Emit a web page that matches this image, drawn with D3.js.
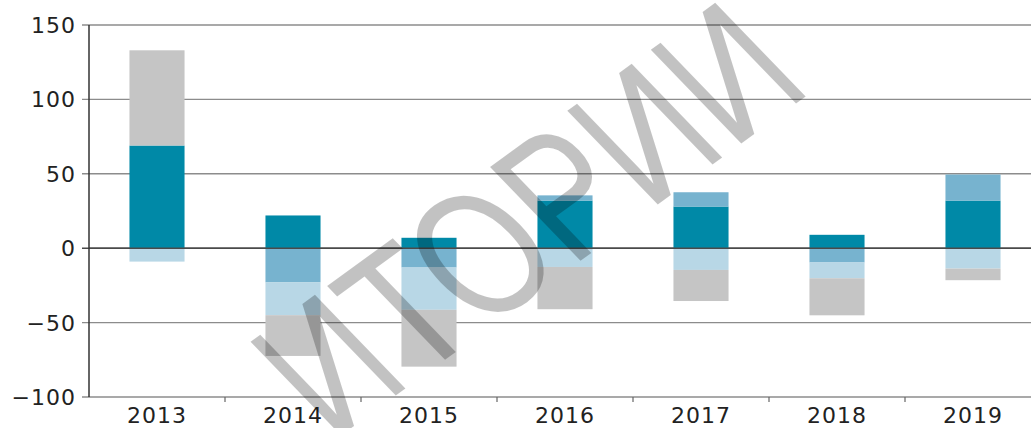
<!DOCTYPE html>
<html>
<head>
<meta charset="utf-8">
<script src="https://cdn.jsdelivr.net/npm/d3@7"></script>
<style>
  body { margin: 0; background: #fff; }
  svg { display: block; }
  .lbl { font-family: "DejaVu Sans", sans-serif; font-size: 22px; fill: #222; letter-spacing: 1px; }
</style>
</head>
<body>
<svg id="chart" width="1031" height="428"></svg>
<script>
// chart values
const years = ['2013', '2014', '2015', '2016', '2017', '2018', '2019'];
const darkTeal  = [69, 22, 7, 32, 28, 9, 32];
const midBlue   = [0, -23, -13, 3.5, 9.6, -9.6, 17.5];
const lightBlue = [-9, -22, -28.4, -12.6, -14.6, -10.6, -13.7];
const greyPart  = [64, -27.4, -38.2, -28.4, -20.9, -24.9, -7.8];
const yTicks = [-100, -50, 0, 50, 100, 150];

const seriesKeys = ['dark', 'mid', 'light', 'grey'];
const colors = { dark: '#0089a7', mid: '#77b3cf', light: '#b8d7e6', grey: '#c5c5c5' };

let table = years.map((y, i) => ({
  year: y, dark: darkTeal[i], mid: midBlue[i], light: lightBlue[i], grey: greyPart[i]
}));

let svg = d3.select('#chart');

let x = d3.scaleBand()
  .domain(years)
  .range([89, 1041])
  .paddingInner(0.595)
  .paddingOuter(0.2975);

let y = d3.scaleLinear()
  .domain([-100, 150])
  .range([397, 25]);

// gridlines
svg.append('g')
  .selectAll('line')
  .data(yTicks)
  .enter()
  .append('line')
  .attr('x1', 82)
  .attr('x2', 1031)
  .attr('y1', d => y(d))
  .attr('y2', d => y(d))
  .attr('stroke', d => d === 0 ? '#4a4a4a' : '#8c8c8c')
  .attr('stroke-width', d => d === 0 ? 1.6 : 1.4);

// stacked bars
let stacked = d3.stack()
  .keys(seriesKeys)
  .offset(d3.stackOffsetDiverging)(table);

svg.append('g')
  .selectAll('g')
  .data(stacked)
  .enter()
  .append('g')
  .attr('fill', d => colors[d.key])
  .selectAll('rect')
  .data(d => d)
  .enter()
  .append('rect')
  .attr('x', d => x(d.data.year))
  .attr('width', x.bandwidth())
  .attr('y', d => y(Math.max(d[0], d[1])))
  .attr('height', d => Math.abs(y(d[0]) - y(d[1])));

// zero line over the bars
svg.append('line')
  .attr('x1', 89).attr('x2', 1031)
  .attr('y1', y(0)).attr('y2', y(0))
  .attr('stroke', '#4a4a4a')
  .attr('stroke-width', 1.6);

// y axis line
svg.append('line')
  .attr('x1', 89).attr('x2', 89)
  .attr('y1', y(150)).attr('y2', y(-100))
  .attr('stroke', '#333')
  .attr('stroke-width', 1.5);

// y labels
svg.append('g')
  .selectAll('text')
  .data(yTicks)
  .enter()
  .append('text')
  .attr('class', 'lbl')
  .attr('x', 76)
  .attr('y', d => y(d))
  .attr('dy', '0.36em')
  .attr('text-anchor', 'end')
  .text(d => d < 0 ? '\u2212' + Math.abs(d) : d);

// category separator ticks on the bottom axis
let gap = x.step() * x.paddingInner() / 2;
svg.append('g')
  .selectAll('line')
  .data(years.slice(1))
  .enter()
  .append('line')
  .attr('x1', d => x(d) - gap)
  .attr('x2', d => x(d) - gap)
  .attr('y1', y(-100))
  .attr('y2', y(-100) + 5)
  .attr('stroke', '#666')
  .attr('stroke-width', 1.2);

// x labels
svg.append('g')
  .selectAll('text')
  .data(years)
  .enter()
  .append('text')
  .attr('class', 'lbl')
  .attr('x', d => x(d) + x.bandwidth() / 2)
  .attr('y', 423)
  .attr('text-anchor', 'middle')
  .text(d => d);

// watermark (narrow, stretched a bit sideways like the scan)
svg.append('text')
  .attr('transform', 'translate(526,217) scale(1.15,1) rotate(-40) scale(0.74,1)')
  .attr('text-anchor', 'middle')
  .attr('dy', '0.36em')
  .style('font-family', '"Liberation Sans", sans-serif')
  .style('font-size', '178px')
  .attr('fill', '#000')
  .attr('fill-opacity', 0.24)
  .text('ИТОРИИ');
</script>
</body>
</html>
